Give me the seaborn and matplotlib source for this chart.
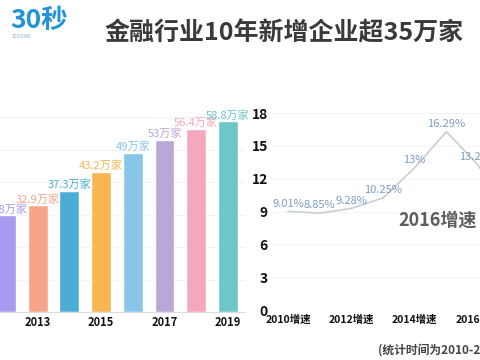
import matplotlib
matplotlib.use('Agg')
import matplotlib.pyplot as plt
import seaborn as sns
import pandas as pd

# data
years = ['2012', '2013', '2014', '2015', '2016', '2017', '2018', '2019']
firms = [29.8, 32.9, 37.3, 43.2, 49, 53, 56.4, 58.8]
bar_colors = ['#a89bf0', '#f7a48a', '#4badd6', '#f8b653', '#88c6e8', '#b9a7d8', '#f5a7be', '#6dc7c9']
bar_ticks = ['2013', '2015', '2017', '2019']

rate_years = ['2010', '2011', '2012', '2013', '2014', '2015', '2016', '2017']
rates = [9.01, 8.85, 9.28, 10.25, 13, 16.29, 13.24, 8.16]
rate_labels = ['9.01%', '8.85%', '9.28%', '10.25%', '13%', '16.29%', '13.24%', '8.16%']
rate_ticks = ['2010增速', '2012增速', '2014增速', '2016增速']

sns.set_style('white')
plt.rcParams['font.family'] = ['Noto Sans CJK SC', 'DejaVu Sans']

fig = plt.figure(figsize=(4.8, 3.6), dpi=100)
fig.patch.set_facecolor('white')

# ---- left: bar chart
ax1 = fig.add_axes([0, 48 / 360, 245 / 480, 212 / 360])
df = pd.DataFrame({'year': years, 'firms': firms})
sns.barplot(data=df, x='year', y='firms', hue='year', palette=bar_colors,
            legend=False, width=0.63, ax=ax1, saturation=1)
ax1.set_xlim(-0.19, 7.54)
ax1.set_ylim(0, 65.3)
ax1.set_yticks(range(0, 61, 10))
ax1.set_yticklabels([])
ax1.tick_params(axis='y', length=0)
ax1.yaxis.grid(True, color='#f2f2f2', lw=0.8)
ax1.set_axisbelow(True)
ax1.set_xticks([1, 3, 5, 7])
ax1.set_xticklabels(bar_ticks, fontsize=8, fontweight='bold', color='#111')
ax1.tick_params(axis='x', length=0, pad=3)
ax1.set_xlabel('')
ax1.set_ylabel('')
for s in ['top', 'right', 'left']:
    ax1.spines[s].set_visible(False)
ax1.spines['bottom'].set_color('#dddddd')
for i, v in enumerate(firms):
    ax1.annotate(f'{v:g}万家', (i, v), xytext=(0, 0.5), textcoords='offset points',
                 ha='center', va='bottom', fontsize=8, color=bar_colors[i],
                 annotation_clip=False)

# ---- right: growth line
ax2 = fig.add_axes([272 / 480, 50 / 360, 208 / 480, 210 / 360])
xs = list(range(len(rates)))
sns.lineplot(x=xs, y=rates, color='#c9cdd4', lw=1.2, ax=ax2)
ax2.set_xlim(-0.505, 6.06)
ax2.set_ylim(0, 19.19)
ax2.set_yticks(range(0, 19, 3))
ax2.set_yticklabels([str(t) for t in range(0, 19, 3)], fontsize=10,
                    fontweight='bold', color='#111')
ax2.set_xticks([0, 2, 4, 6])
ax2.set_xticklabels(rate_ticks, fontsize=7.5, fontweight='bold', color='#111')
ax2.tick_params(axis='both', length=0)
ax2.tick_params(axis='y', pad=3)
ax2.tick_params(axis='x', pad=3)
ax2.yaxis.grid(True, color='#f4f4f4', lw=0.8)
for s in ['top', 'right', 'left', 'bottom']:
    ax2.spines[s].set_visible(False)
for i, v in enumerate(rates):
    ax2.annotate(rate_labels[i], (i, v), xytext=(0, 2), textcoords='offset points',
                 ha='center', va='bottom', fontsize=8, color='#7a9dc2')
ax2.text(438 / 480, 1 - 220 / 360, '2016增速', transform=fig.transFigure,
         ha='center', va='center', fontsize=13, fontweight='bold', color='#5d5d5d')

# ---- header / footer
fig.text(105 / 480, 1 - 33 / 360, '金融行业10年新增企业超35万家', fontsize=18,
         fontweight='bold', color='#3a3a3a', ha='left', va='center')
fig.text(10 / 480, 1 - 21 / 360, '30秒', fontsize=19, fontweight='heavy',
         color='#2394d8', ha='left', va='center')
fig.text(12 / 480, 1 - 37 / 360, 'SECOND', fontsize=3.5, color='#8fb6cc',
         ha='left', va='center')
fig.text(378 / 480, 1 - 350 / 360, '(统计时间为2010-2019年)', fontsize=8.5,
         fontweight='bold', color='#444444', ha='left', va='center')

fig.savefig('out.png', dpi=100)
